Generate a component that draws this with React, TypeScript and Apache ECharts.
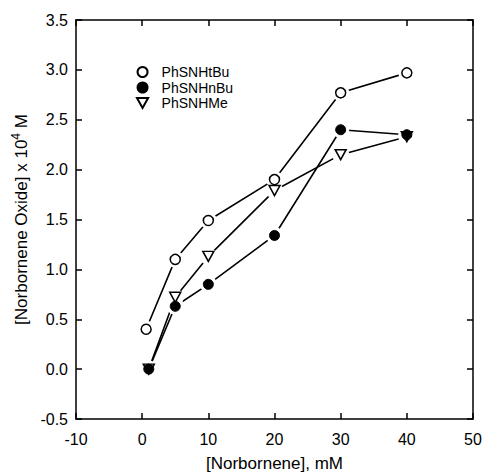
import React, { useEffect, useRef } from "react";
import * as echarts from "echarts";

const xTBu = [0.6, 5, 10, 20, 30, 40];
const xRest = [1, 5, 10, 20, 30, 40];
const tBu = [0.4, 1.1, 1.49, 1.9, 2.77, 2.97];
const nBu = [0.0, 0.63, 0.85, 1.34, 2.4, 2.35];
const me = [0.0, 0.72, 1.13, 1.79, 2.15, 2.33];
const names = ["PhSNHtBu", "PhSNHnBu", "PhSNHMe"];

const FONT = "Liberation Sans, Arial, sans-serif";
const TRI = "path://M0,0 L10,0 L5,9 Z";

function pairs(xs: number[], ys: number[]) {
  return xs.map((x, i) => [x, ys[i]]);
}

export default function App() {
  const ref = useRef<HTMLDivElement>(null);
  useEffect(() => {
    if (!ref.current) return;
    document.body.style.margin = "0";
    const chart = echarts.init(ref.current, undefined, { renderer: "svg" });
    const dTBu = pairs(xTBu, tBu);
    const dNBu = pairs(xRest, nBu);
    const dMe = pairs(xRest, me);
    const axisLine = { show: true, onZero: false, lineStyle: { color: "#000", width: 1.5 } };
    const axisTick = { show: true, inside: true, length: 6, lineStyle: { color: "#000", width: 1.5 } };
    const lineSeries = (d: number[][]) => ({
      type: "line",
      data: d,
      showSymbol: false,
      symbol: "none",
      lineStyle: { color: "#000", width: 1.6 },
      z: 1,
      silent: true,
    });
    chart.setOption({
      animation: false,
      grid: { left: 76, top: 20, right: 9, bottom: 53, outerBoundsMode: "none", containLabel: false },
      legend: {
        orient: "vertical",
        left: 136,
        top: 65,
        padding: 0,
        itemWidth: 20,
        itemHeight: 10,
        itemGap: 1.5,
        data: names,
        textStyle: { fontFamily: FONT, fontSize: 14, lineHeight: 12, color: "#000", padding: [0, 0, 0, 4] },
      },
      xAxis: [
        {
          type: "value",
          min: -10,
          max: 50,
          interval: 10,
          axisLine,
          axisTick,
          splitLine: { show: false },
          axisLabel: { fontFamily: FONT, fontSize: 16, color: "#000", margin: 12 },
          name: "[Norbornene], mM",
          nameLocation: "middle",
          nameGap: 36,
          nameTextStyle: { fontFamily: FONT, fontSize: 17, lineHeight: 17, color: "#000" },
        },
        {
          type: "value",
          position: "top",
          min: -10,
          max: 50,
          interval: 10,
          axisLine,
          axisTick,
          splitLine: { show: false },
          axisLabel: { show: false },
        },
      ],
      yAxis: [
        {
          type: "value",
          min: -0.5,
          max: 3.5,
          interval: 0.5,
          axisLine,
          axisTick,
          splitLine: { show: false },
          axisLabel: {
            fontFamily: FONT,
            fontSize: 16,
            color: "#000",
            margin: 8,
            formatter: (v: number) => v.toFixed(1),
          },
          name: "{a|[Norbornene Oxide] x 10}{s|4}{a| M}",
          nameLocation: "middle",
          nameRotate: 90,
          nameGap: 42,
          nameTextStyle: {
            fontFamily: FONT,
            color: "#000",
            rich: {
              a: { fontFamily: FONT, fontSize: 17, lineHeight: 22, color: "#000" },
              s: { fontFamily: FONT, fontSize: 12, lineHeight: 12, verticalAlign: "top", color: "#000" },
            },
          },
        },
        {
          type: "value",
          position: "right",
          min: -0.5,
          max: 3.5,
          interval: 0.5,
          axisLine,
          axisTick,
          splitLine: { show: false },
          axisLabel: { show: false },
        },
      ],
      series: [
        lineSeries(dTBu),
        lineSeries(dNBu),
        lineSeries(dMe),
        {
          name: "halo",
          type: "scatter",
          data: [...dTBu, ...dNBu, ...dMe],
          symbol: "circle",
          symbolSize: 17,
          itemStyle: { color: "#fff", opacity: 1 },
          z: 5,
          silent: true,
        },
        {
          name: names[0],
          type: "scatter",
          data: dTBu,
          symbol: "circle",
          symbolSize: 10,
          itemStyle: { color: "#fff", borderColor: "#000", borderWidth: 1.5, opacity: 1 },
          z: 6,
        },
        {
          name: names[2],
          type: "scatter",
          data: dMe,
          symbol: TRI,
          symbolSize: [11, 10],
          itemStyle: { color: "#fff", borderColor: "#000", borderWidth: 1.5, opacity: 1 },
          z: 6,
        },
        {
          name: names[1],
          type: "scatter",
          data: dNBu,
          symbol: "circle",
          symbolSize: 10,
          itemStyle: { color: "#000", borderColor: "#000", borderWidth: 1, opacity: 1 },
          z: 7,
        },
      ],
    });
    return () => chart.dispose();
  }, []);
  return <div ref={ref} style={{ width: 482, height: 472 }} />;
}
